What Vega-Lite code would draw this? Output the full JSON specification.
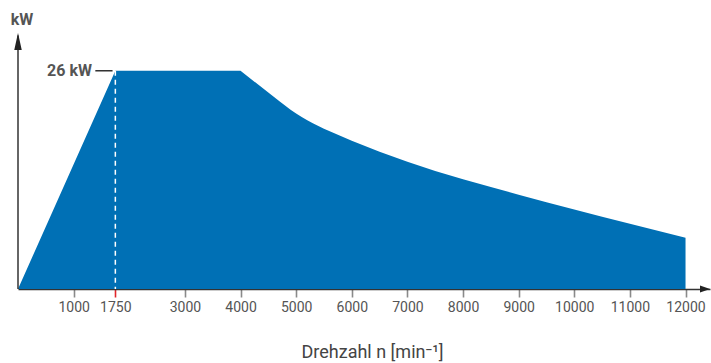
{
  "$schema": "https://vega.github.io/schema/vega-lite/v6.json",
  "width": 692,
  "height": 256,
  "autosize": {"type": "none"},
  "padding": {"left": 18, "top": 33, "right": 1, "bottom": 74},
  "config": {"view": {"stroke": null}, "font": "Roboto"},
  "datasets": {
    "curve": [
      {"rpm": 0, "kw": 0},
      {"rpm": 1750, "kw": 26},
      {"rpm": 4000, "kw": 26},
      {"rpm": 4700, "kw": 22.36},
      {"rpm": 4800, "kw": 21.85},
      {"rpm": 4900, "kw": 21.37},
      {"rpm": 5000, "kw": 20.92},
      {"rpm": 5100, "kw": 20.5},
      {"rpm": 5200, "kw": 20.11},
      {"rpm": 5300, "kw": 19.75},
      {"rpm": 5400, "kw": 19.41},
      {"rpm": 5500, "kw": 19.09},
      {"rpm": 6000, "kw": 17.65},
      {"rpm": 6500, "kw": 16.35},
      {"rpm": 7000, "kw": 15.15},
      {"rpm": 7500, "kw": 14.05},
      {"rpm": 8000, "kw": 13.07},
      {"rpm": 8500, "kw": 12.14},
      {"rpm": 9000, "kw": 11.23},
      {"rpm": 9500, "kw": 10.35},
      {"rpm": 10000, "kw": 9.48},
      {"rpm": 10500, "kw": 8.62},
      {"rpm": 11000, "kw": 7.77},
      {"rpm": 11500, "kw": 6.93},
      {"rpm": 12000, "kw": 6.1}
    ],
    "marker": [{"rpm": 1750, "kw": 26}],
    "labels26": [{"rpm": 1330, "kw": 26, "label": "26 kW"}],
    "unit": [{"rpm": 72, "kw": 32, "label": "kW"}]
  },
  "layer": [
    {
      "data": {"name": "curve"},
      "mark": {"type": "area", "color": "#0070b5", "interpolate": "linear"},
      "encoding": {
        "x": {
          "field": "rpm", "type": "quantitative",
          "title": "Drehzahl n [min⁻¹]",
          "scale": {"domain": [0, 12440], "nice": false, "zero": false},
          "axis": {
            "values": [1000, 1750, 3000, 4000, 5000, 6000, 7000, 8000, 9000, 10000, 11000, 12000],
            "format": "d",
            "grid": false,
            "domainColor": "#333333",
            "domainWidth": 1.5,
            "tickSize": 8,
            "tickWidth": 1.6,
            "tickColor": {"condition": {"test": "datum.value === 1750", "value": "#e2262b"}, "value": "#8a8a8a"},
            "labelFont": "Roboto",
            "labelFontSize": 14,
            "labelColor": "#555555",
            "labelPadding": 3,
            "titleFont": "Roboto",
            "titleFontSize": 18,
            "titleFontWeight": "normal",
            "titleColor": "#444444",
            "titlePadding": 29,
            "titleX": 354
          }
        },
        "y": {
          "field": "kw", "type": "quantitative",
          "scale": {"domain": [0, 30.5], "nice": false},
          "axis": null
        }
      }
    },
    {
      "data": {"name": "marker"},
      "mark": {"type": "rule", "color": "white", "strokeDash": [5, 4], "strokeWidth": 1.5},
      "encoding": {
        "x": {"field": "rpm", "type": "quantitative", "title": "Drehzahl n [min⁻¹]"},
        "y": {"field": "kw", "type": "quantitative", "axis": null},
        "y2": {"datum": 0}
      }
    },
    {
      "data": {"values": [{}]},
      "mark": {"type": "rule", "color": "#333333", "strokeWidth": 1.5},
      "encoding": {
        "x": {"datum": 0, "type": "quantitative", "title": "Drehzahl n [min⁻¹]"},
        "y": {"datum": 0, "type": "quantitative", "axis": null},
        "y2": {"datum": 30.2}
      }
    },
    {
      "data": {"values": [{}]},
      "mark": {"type": "rule", "color": "#333333", "strokeWidth": 1.5},
      "encoding": {
        "x": {"datum": 1390, "type": "quantitative", "title": "Drehzahl n [min⁻¹]"},
        "x2": {"datum": 1700},
        "y": {"datum": 26, "type": "quantitative", "axis": null}
      }
    },
    {
      "data": {"values": [{}]},
      "mark": {"type": "point", "filled": true, "color": "#222222", "opacity": 1, "size": 100, "shape": "M0,0L-0.75,3.4L0.75,3.4Z"},
      "encoding": {
        "x": {"datum": 0, "type": "quantitative", "title": "Drehzahl n [min⁻¹]"},
        "y": {"datum": 30.5, "type": "quantitative", "axis": null}
      }
    },
    {
      "data": {"values": [{}]},
      "mark": {"type": "point", "filled": true, "color": "#222222", "opacity": 1, "size": 100, "shape": "M0,0L-2,-0.7L-2,0.7Z"},
      "encoding": {
        "x": {"datum": 12440, "type": "quantitative", "title": "Drehzahl n [min⁻¹]"},
        "y": {"datum": 0, "type": "quantitative", "axis": null}
      }
    },
    {
      "data": {"name": "labels26"},
      "mark": {"type": "text", "align": "right", "baseline": "middle", "fontSize": 16, "fontWeight": "bold", "color": "#555555", "font": "Roboto"},
      "encoding": {
        "x": {"field": "rpm", "type": "quantitative", "title": "Drehzahl n [min⁻¹]"},
        "y": {"field": "kw", "type": "quantitative", "axis": null},
        "text": {"field": "label"}
      }
    },
    {
      "data": {"name": "unit"},
      "mark": {"type": "text", "align": "center", "baseline": "middle", "fontSize": 16, "fontWeight": "bold", "color": "#555555", "font": "Roboto"},
      "encoding": {
        "x": {"field": "rpm", "type": "quantitative", "title": "Drehzahl n [min⁻¹]"},
        "y": {"field": "kw", "type": "quantitative", "axis": null},
        "text": {"field": "label"}
      }
    }
  ]
}
